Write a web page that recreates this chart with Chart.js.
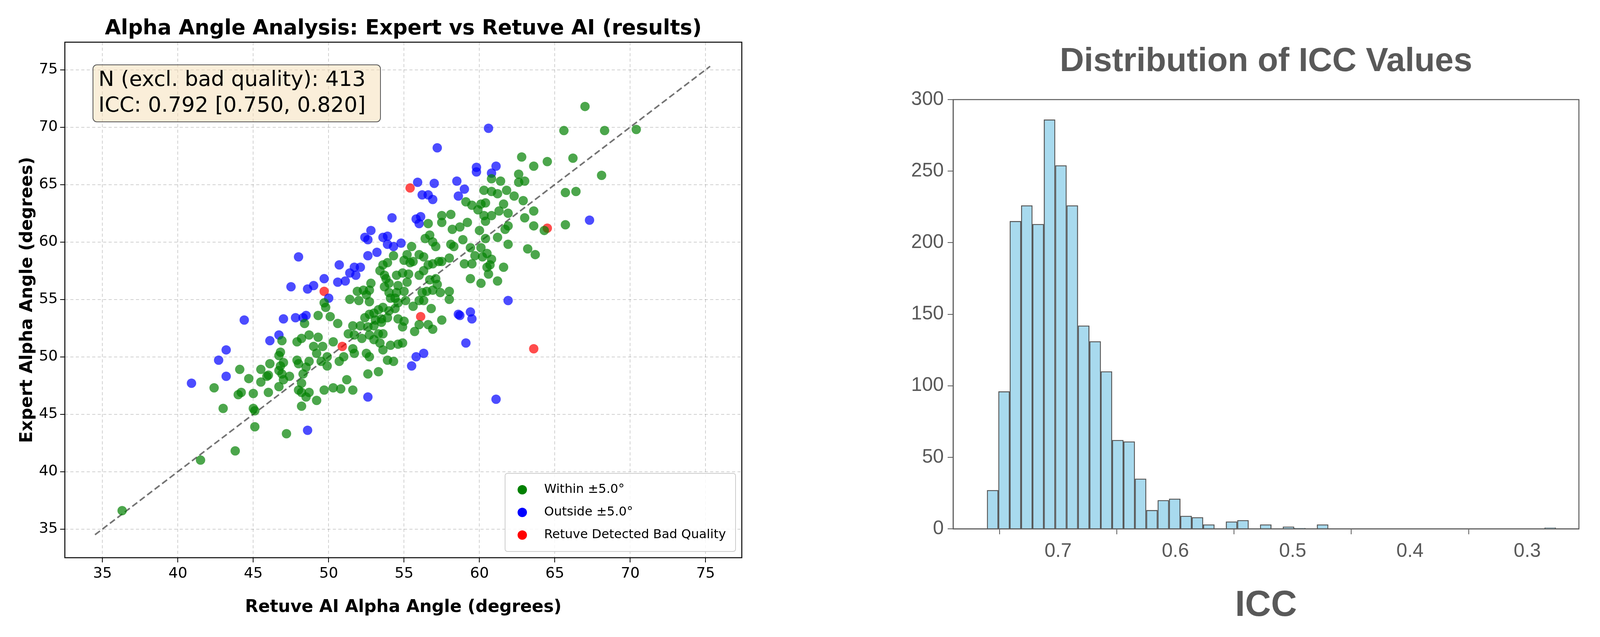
<!DOCTYPE html>
<html>
<head>
<meta charset="utf-8">
<script src="https://cdn.jsdelivr.net/npm/chart.js@4"></script>
<style>
  body { margin: 0; background: #fff; }
  #left { position: absolute; left: 0; top: 0; width: 2000px; height: 1631px; }
  #right { position: absolute; left: 2100px; top: 0; width: 2024px; height: 1631px; }
</style>
</head>
<body>
<div id="left"><canvas id="scatterChart"></canvas></div>
<div id="right"><canvas id="histChart"></canvas></div>
<script>
// punaiset: Retuve tunnisti huonon laadun
const redX = [55.4, 64.5, 49.7, 56.1, 50.9, 63.6];
const redY = [64.7, 61.2, 55.7, 53.5, 50.9, 50.7];

// siniset: yli 5 asteen ero
const blueX = [60.6, 57.2, 59.8, 59.8, 61.1, 60.8, 55.9, 57.0, 58.5, 56.2, 56.6, 56.9, 59.0, 58.6,
  54.2, 55.8, 56.1, 56.0, 67.3, 52.8, 52.4, 52.6, 53.6, 53.9, 53.9, 54.3, 54.8, 53.2, 52.6,
  48.0, 50.7, 51.7, 52.1, 51.4, 51.8, 49.7, 50.6, 51.1, 47.5, 49.0, 48.6, 50.0, 61.9,
  44.4, 47.0, 47.8, 48.5, 48.3, 59.4, 58.6, 58.7, 59.5, 46.7, 46.1, 59.1,
  43.2, 42.7, 43.2, 40.9, 55.5, 55.8, 56.3, 52.6, 61.1, 48.6];
const blueY = [69.9, 68.2, 66.5, 66.1, 66.6, 66.0, 65.2, 65.1, 65.3, 64.1, 64.1, 63.7, 64.6, 64.0,
  62.1, 62.0, 62.2, 61.6, 61.9, 61.0, 60.4, 60.2, 60.4, 60.5, 59.8, 59.6, 59.9, 59.1, 58.8,
  58.7, 58.0, 57.8, 57.8, 57.3, 57.1, 56.8, 56.5, 56.6, 56.1, 56.2, 55.9, 55.1, 54.9,
  53.2, 53.3, 53.4, 53.6, 53.4, 53.9, 53.7, 53.6, 53.3, 51.9, 51.4, 51.2,
  50.6, 49.7, 48.3, 47.7, 49.2, 50.0, 50.3, 46.5, 46.3, 43.6];

// vihreät: ero alle 5 astetta
const greenX = [67.0, 65.6, 68.3, 70.4, 62.8, 66.2, 64.5, 63.6, 68.1, 62.6, 63.0, 62.6, 61.4, 60.8,
  65.7, 66.4, 60.3, 61.2, 61.8, 62.3, 60.8, 60.4, 60.1, 59.1, 59.5, 61.6, 62.9, 63.6, 61.3, 59.9,
  60.8, 60.3, 58.1, 57.5, 63.0, 61.9, 65.7, 63.6, 64.3, 61.9, 61.7, 60.4, 59.2, 58.7, 60.0, 57.5,
  56.6, 58.2, 61.2, 60.4, 58.9, 61.9, 63.2, 63.7, 59.4, 60.1, 60.5, 60.8, 59.7, 60.2, 59.0, 59.5,
  60.7, 60.5, 61.6, 60.6, 59.4, 60.1, 61.2, 58.0, 57.5, 57.3, 56.9, 58.1, 58.3, 56.9, 57.1, 56.7,
  56.4, 55.5, 56.0, 56.3, 55.2, 55.0, 55.4, 56.6, 56.3, 56.0, 56.7, 57.1, 57.2, 56.9, 56.5, 56.2,
  57.4, 58.0, 58.0, 56.8, 57.5, 56.6, 56.9, 56.0, 55.7, 54.9, 55.0, 55.1, 55.6, 56.0, 56.3, 55.6,
  54.9, 55.3, 54.5, 54.3, 53.9, 53.6, 53.4, 53.7, 53.8, 54.0, 53.7, 52.8, 52.7, 52.3, 52.5, 51.9,
  52.0, 51.4, 52.7, 54.1, 54.4, 54.6, 55.2, 54.6, 55.0, 54.5, 54.0, 54.4, 54.0, 53.6, 53.3, 53.0,
  52.7, 52.4, 53.1, 53.5, 53.9, 54.6, 53.5, 53.0, 52.6, 52.1, 51.6, 51.3, 51.7, 52.2, 52.7, 53.3,
  53.6, 53.0, 53.4, 53.6, 54.1, 54.6, 54.9, 51.6, 51.7, 52.5, 52.7, 53.9, 54.3, 53.3, 52.6, 51.6,
  50.8, 50.3, 51.2, 50.7, 51.0, 50.3, 49.9, 49.9, 49.6, 49.3, 49.3, 50.1, 50.6, 49.8, 49.7, 48.7,
  48.2, 47.9, 48.4, 46.9, 46.8, 46.7, 47.0, 46.8, 46.1, 46.9, 47.0, 46.7, 46.0, 45.5, 45.9, 45.5,
  44.7, 44.1, 46.7, 46.0, 45.0, 44.2, 44.0, 42.4, 43.0, 45.0, 45.1, 45.1, 47.2, 43.8, 41.5, 36.3,
  49.0, 49.2, 49.5, 48.7, 48.5, 48.0, 47.9, 48.3, 48.2, 48.0, 48.2, 48.7, 48.5, 49.2, 49.7, 48.2,
  47.4];
const greenY = [71.8, 69.7, 69.7, 69.8, 67.4, 67.3, 67.0, 66.6, 65.8, 65.9, 65.3, 65.2, 65.3, 65.5,
  64.3, 64.4, 64.5, 64.2, 64.5, 64.0, 64.4, 63.4, 63.3, 63.5, 63.2, 63.3, 63.6, 62.7, 62.7, 62.8,
  62.3, 62.3, 62.4, 62.3, 62.1, 62.5, 61.5, 61.4, 61.0, 61.4, 61.1, 61.8, 61.7, 61.3, 61.0, 61.7,
  61.6, 61.1, 60.4, 60.3, 60.2, 59.8, 59.4, 58.9, 59.5, 59.5, 59.0, 58.5, 58.8, 58.7, 58.1, 58.1,
  58.0, 57.8, 57.8, 57.2, 56.8, 56.4, 56.6, 58.6, 58.3, 58.3, 58.1, 59.8, 59.6, 60.0, 59.6, 60.6,
  60.3, 59.6, 58.9, 58.7, 58.9, 58.4, 58.2, 58.0, 57.5, 57.1, 56.7, 56.8, 56.3, 55.8, 55.7, 55.6,
  55.6, 55.7, 55.0, 54.2, 53.2, 52.8, 52.4, 52.8, 52.2, 52.6, 53.1, 54.9, 54.4, 54.9, 54.9, 58.3,
  57.3, 57.2, 57.1, 58.8, 58.2, 58.0, 57.5, 57.1, 56.8, 56.4, 56.1, 56.4, 55.8, 55.8, 55.4, 55.7,
  54.9, 55.0, 54.8, 55.1, 55.1, 54.7, 56.5, 56.2, 55.7, 55.6, 55.6, 54.2, 54.0, 54.3, 54.1, 53.8,
  53.7, 53.4, 53.2, 53.3, 53.4, 53.3, 53.0, 52.7, 52.6, 52.7, 52.7, 52.0, 51.9, 51.6, 51.9, 52.0,
  52.0, 51.5, 51.2, 50.6, 51.0, 51.1, 51.2, 50.7, 50.3, 50.3, 50.0, 49.7, 49.6, 48.7, 48.5, 47.1,
  47.2, 47.3, 48.0, 49.6, 50.0, 51.3, 50.0, 49.2, 50.9, 51.7, 53.6, 53.5, 52.9, 54.3, 54.7, 51.9,
  51.6, 51.3, 52.9, 51.4, 50.4, 50.1, 49.5, 49.2, 49.4, 48.5, 48.0, 48.8, 48.4, 48.9, 48.3, 47.8,
  48.1, 48.9, 47.4, 46.9, 46.8, 46.9, 46.7, 47.3, 45.5, 45.5, 45.3, 43.9, 43.3, 41.8, 41.0, 36.6,
  50.9, 50.3, 49.6, 49.6, 49.1, 49.4, 49.7, 48.5, 47.7, 47.1, 46.9, 46.9, 46.5, 46.2, 47.1, 45.7,
  48.3];

// identiteettiviiva
const lineX = [34.5, 75.3];
const lineY = [34.5, 75.3];

// histogrammin luokat (ICC) ja lukumäärät
const binWidth = 0.0097;
const binStart = 0.7606;
const binCounts = [27, 96, 215, 226, 213, 286, 254, 226, 142, 131, 110, 62, 61, 35, 13, 20, 21, 9, 8, 3,
  0, 5, 6, 0, 3, 0, 1.5, 0.5, 0, 3, 0, 0, 0, 0, 0, 0, 0, 0, 0, 0, 0, 0, 0, 0, 0, 0, 0, 0, 0, 0.8];
const binCenters = binCounts.map((c, i) => +(binStart - binWidth * (i + 0.5)).toFixed(4));

const toPoints = (xs, ys) => xs.map((x, i) => ({ x: x, y: ys[i] }));

// kehys kuvaajan ympärille + otsikko keskitettynä piirtoalueen päälle
const frame = (color, width, title, font, titleY) => ({
  id: 'frame',
  afterDraw(chart) {
    const a = chart.chartArea;
    const ctx = chart.ctx;
    ctx.save();
    ctx.strokeStyle = color;
    ctx.lineWidth = width;
    ctx.strokeRect(a.left, a.top, a.right - a.left, a.bottom - a.top);
    ctx.fillStyle = color;
    ctx.font = font;
    ctx.textAlign = 'center';
    ctx.textBaseline = 'middle';
    ctx.fillText(title, (a.left + a.right) / 2, titleY);
    ctx.restore();
  },
});

// tekstilaatikko ja selite
const annotations = {
  id: 'annotations',
  afterDraw(chart) {
    const ctx = chart.ctx;
    const a = chart.chartArea;
    ctx.save();
    // N / ICC laatikko
    const bx = a.left + 72, by = a.top + 58, bw = 736, bh = 146;
    ctx.beginPath();
    ctx.roundRect(bx, by, bw, bh, 10);
    ctx.fillStyle = 'rgba(245,222,179,0.5)';
    ctx.fill();
    ctx.strokeStyle = '#555';
    ctx.lineWidth = 2;
    ctx.stroke();
    ctx.fillStyle = '#000';
    ctx.font = '54px "DejaVu Sans"';
    ctx.textBaseline = 'middle';
    ctx.fillText('N (excl. bad quality): 413', bx + 14, by + 40);
    ctx.fillText('ICC: 0.792 [0.750, 0.820]', bx + 14, by + 106);

    // selite oikeaan alakulmaan
    const lw = 590, lh = 200;
    const lx = a.right - lw - 16, ly = a.bottom - lh - 16;
    ctx.beginPath();
    ctx.roundRect(lx, ly, lw, lh, 6);
    ctx.fillStyle = 'rgba(255,255,255,0.85)';
    ctx.fill();
    ctx.strokeStyle = '#ccc';
    ctx.stroke();
    const items = [['Within \u00b15.0\u00b0', 'green'], ['Outside \u00b15.0\u00b0', 'blue'], ['Retuve Detected Bad Quality', 'red']];
    ctx.font = '32px "DejaVu Sans"';
    items.forEach((it, i) => {
      const y = ly + 42 + i * 58;
      ctx.beginPath();
      ctx.arc(lx + 44, y, 12, 0, Math.PI * 2);
      ctx.fillStyle = it[1];
      ctx.fill();
      ctx.fillStyle = '#000';
      ctx.fillText(it[0], lx + 100, y);
    });
    ctx.restore();
  },
};

const tickFont = { family: 'DejaVu Sans', size: 38 };
const gridStyle = { color: 'rgba(0,0,0,0.18)', lineWidth: 2, tickLength: 12, tickColor: '#000' };
const ticksAt = (s) => { s.ticks = [35, 40, 45, 50, 55, 60, 65, 70, 75].map((v) => ({ value: v })); };

new Chart(document.getElementById('scatterChart'), {
  type: 'scatter',
  data: {
    datasets: [
      { data: toPoints(greenX, greenY), backgroundColor: 'rgba(0,128,0,0.7)', borderWidth: 0, pointRadius: 12 },
      { data: toPoints(blueX, blueY), backgroundColor: 'rgba(0,0,255,0.7)', borderWidth: 0, pointRadius: 12 },
      { data: toPoints(redX, redY), backgroundColor: 'rgba(255,0,0,0.7)', borderWidth: 0, pointRadius: 12 },
      {
        type: 'line', data: toPoints(lineX, lineY), borderColor: 'rgba(0,0,0,0.55)', borderWidth: 4,
        borderDash: [16, 8], pointRadius: 0, fill: false,
      },
    ],
  },
  options: {
    responsive: true,
    maintainAspectRatio: false,
    animation: false,
    layout: { padding: { left: 40, right: 101, top: 108, bottom: 45 } },
    plugins: {
      legend: { display: false },
      tooltip: { enabled: false },
    },
    scales: {
      x: {
        type: 'linear', min: 32.5, max: 77.4,
        afterFit: (s) => { s.height = 158; },
        afterBuildTicks: ticksAt,
        ticks: { font: tickFont, color: '#000', padding: 6 },
        grid: gridStyle,
        border: { display: false, dash: [8, 6] },
        title: { display: true, text: 'Retuve AI Alpha Angle (degrees)', font: { family: 'DejaVu Sans', size: 44, weight: 'bold' }, color: '#000', padding: { top: 0 } },
      },
      y: {
        type: 'linear', min: 32.5, max: 77.4,
        afterFit: (s) => { s.width = 126; },
        afterBuildTicks: ticksAt,
        ticks: { font: tickFont, color: '#000', padding: 6 },
        grid: gridStyle,
        border: { display: false, dash: [8, 6] },
        title: { display: true, text: 'Expert Alpha Angle (degrees)', font: { family: 'DejaVu Sans', size: 44, weight: 'bold' }, color: '#000', padding: { bottom: 0 } },
      },
    },
  },
  plugins: [frame('#000', 2.5, 'Alpha Angle Analysis: Expert vs Retuve AI (results)', 'bold 53px "DejaVu Sans"', 74), annotations],
});

const gray = '#595959';
const histFont = { family: 'Liberation Sans', size: 50 };

new Chart(document.getElementById('histChart'), {
  type: 'bar',
  data: {
    datasets: [{
      data: binCenters.map((x, i) => ({ x: x, y: binCounts[i] })),
      backgroundColor: '#a8daee',
      borderColor: '#555',
      borderWidth: 2.5,
      barPercentage: 1,
      categoryPercentage: 1,
      grouped: false,
    }],
  },
  options: {
    responsive: true,
    maintainAspectRatio: false,
    animation: false,
    layout: { padding: { left: 0, right: 82, top: 255, bottom: 20 } },
    plugins: {
      legend: { display: false },
      tooltip: { enabled: false },
    },
    scales: {
      x: {
        type: 'linear', reverse: true, min: 0.256, max: 0.7895, offset: false,
        afterFit: (s) => { s.height = 257; },
        afterBuildTicks: (s) => { s.ticks = [0.7, 0.6, 0.5, 0.4, 0.3].map((v) => ({ value: v })); },
        ticks: { font: histFont, color: gray, padding: 14, callback: (v) => v.toFixed(1) },
        grid: { drawOnChartArea: false, color: gray, tickLength: 14, lineWidth: 2 },
        border: { color: gray, width: 2.5 },
        title: { display: true, text: 'ICC', font: { family: 'Liberation Sans', size: 92, weight: 'bold' }, color: gray, padding: { top: 20 } },
      },
      y: {
        min: 0, max: 300,
        afterFit: (s) => { s.width = 340; },
        ticks: { stepSize: 50, font: histFont, color: gray, padding: 10 },
        grid: { drawOnChartArea: false, color: gray, tickLength: 14, lineWidth: 2 },
        border: { color: gray, width: 2.5 },
      },
    },
  },
  plugins: [frame(gray, 2.5, 'Distribution of ICC Values', 'bold 86px "Liberation Sans"', 158)],
});
</script>
</body>
</html>
